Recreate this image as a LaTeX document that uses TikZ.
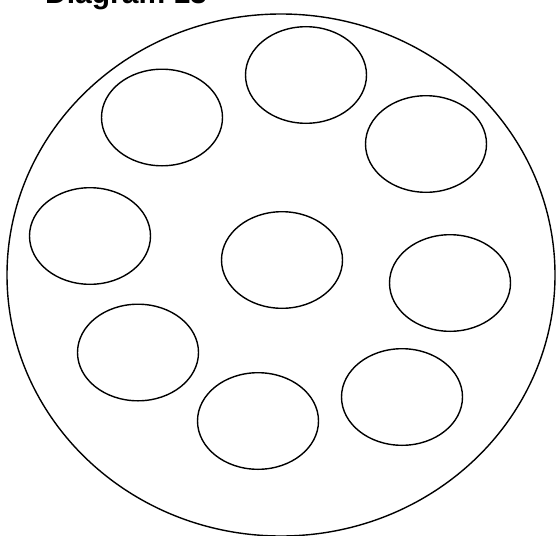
\documentclass[tikz,border=0pt]{standalone}
\usepackage{fontspec}
\setmainfont{Liberation Sans}
\usepackage{tikz}
\usetikzlibrary{positioning}

\begin{document}
\begin{tikzpicture}[x=1pt,y=-1pt]
  \def\rx{60.5}
  \def\ry{48.3}
  \useasboundingbox (0,0) rectangle (556,535);
  % plate
  \draw[line width=1.4pt] (281,275) ellipse [x radius=274, y radius=261];
  % wells
  \foreach \cx/\cy in {306/75, 162/117.5, 426/144, 90/236, 282/260,
                       450/283, 138/352.5, 402/397, 258/421}
    \draw[line width=1.4pt] (\cx,\cy) ellipse [x radius=\rx, y radius=\ry];
  \node[anchor=base west,inner sep=0pt,font=\fontsize{30}{30}\selectfont\bfseries] (title) at (45,4) {Diagram 13};
\end{tikzpicture}
\end{document}
